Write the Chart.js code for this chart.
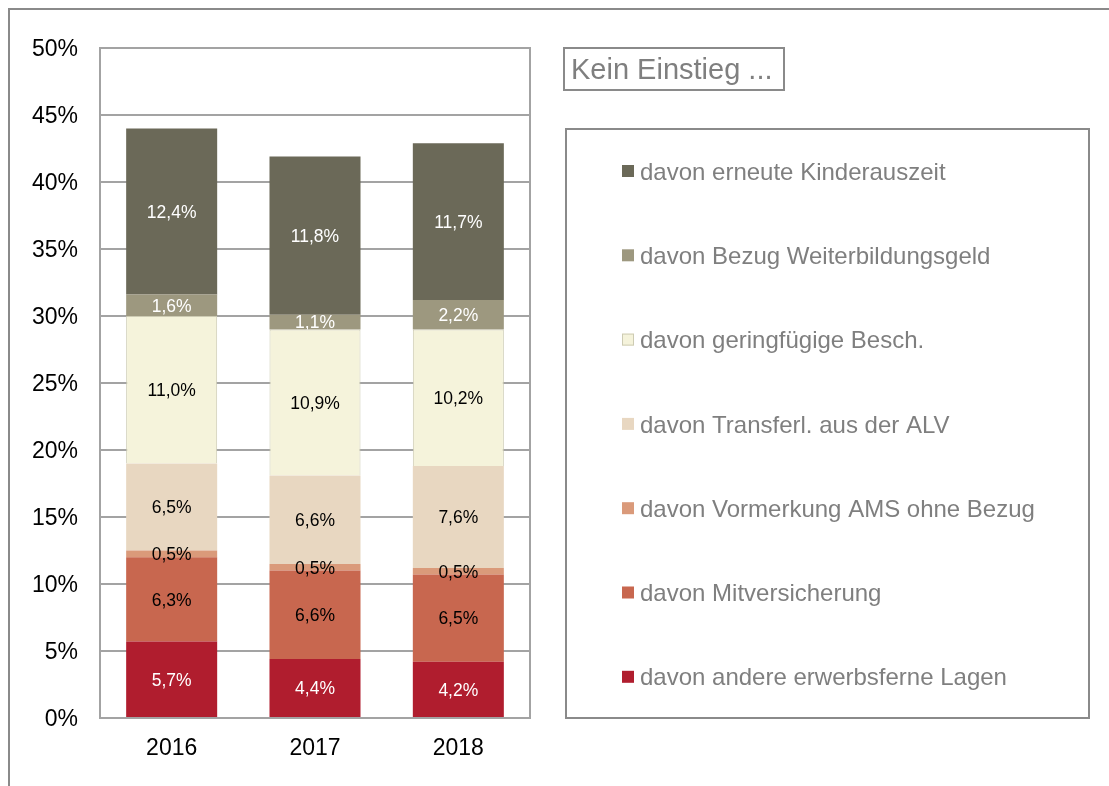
<!DOCTYPE html>
<html><head><meta charset="utf-8">
<script src="https://cdn.jsdelivr.net/npm/chart.js@4/dist/chart.umd.min.js"></script>
<style>html,body{margin:0;padding:0;background:#fff}#wrap{width:1109px;height:786px;position:relative}</style>
</head><body><div id="wrap"><canvas id="c" width="1109" height="786"></canvas></div>
<script>
const categories = ['2016', '2017', '2018'];
const andereLagen = [5.7, 4.4, 4.2];
const mitversicherung = [6.3, 6.6, 6.5];
const vormerkungAMS = [0.5, 0.5, 0.5];
const transferALV = [6.5, 6.6, 7.6];
const geringfuegig = [11.0, 10.9, 10.2];
const weiterbildungsgeld = [1.6, 1.1, 2.2];
const kinderauszeit = [12.4, 11.8, 11.7];
const seriesLabels = [
  'davon andere erwerbsferne Lagen',
  'davon Mitversicherung',
  'davon Vormerkung AMS ohne Bezug',
  'davon Transferl. aus der ALV',
  'davon geringfügige Besch.',
  'davon Bezug Weiterbildungsgeld',
  'davon erneute Kinderauszeit'
];
const yTickValues = [0, 5, 10, 15, 20, 25, 30, 35, 40, 45, 50];
const titleText = 'Kein Einstieg ...';

const seriesValues = [andereLagen, mitversicherung, vormerkungAMS, transferALV, geringfuegig, weiterbildungsgeld, kinderauszeit];
const fillColors = ['#B01D2E', '#C8674F', '#DA9A7A', '#E8D7C1', '#F5F3DB', '#9D987F', '#6B6958'];
const labelColors = ['#FFFFFF', '#000000', '#000000', '#000000', '#000000', '#FFFFFF', '#FFFFFF'];
const borderColors = [null, null, null, null, '#CDCBB3', null, null];

const FONT = "'Liberation Sans', Arial, sans-serif";
const GRID = '#A3A3A3';
const FRAME = '#8A8A8A';

const fmt = v => v.toFixed(1).replace('.', ',') + '%';

const decorPlugin = {
  id: 'decor',
  beforeDraw(chart) {
    const ctx = chart.ctx;
    ctx.save();
    ctx.fillStyle = '#fff';
    ctx.fillRect(0, 0, chart.width, chart.height);
    ctx.strokeStyle = FRAME;
    ctx.lineWidth = 2;
    ctx.beginPath();
    ctx.moveTo(9, 786); ctx.lineTo(9, 9); ctx.lineTo(1109, 9);
    ctx.stroke();
    // title box
    ctx.strokeRect(564, 48, 220, 42);
    ctx.fillStyle = '#7F7F7F';
    ctx.font = '29px ' + FONT;
    ctx.textBaseline = 'middle';
    ctx.textAlign = 'left';
    ctx.fillText(titleText, 571, 71);
    // legend box
    ctx.strokeRect(566, 129, 523, 589);
    ctx.font = '24px ' + FONT;
    const n = chart.data.datasets.length;
    for (let i = 0; i < n; i++) {
      const ds = chart.data.datasets[n - 1 - i];
      const y = 171 + i * 84.3;
      ctx.fillStyle = ds.backgroundColor;
      ctx.fillRect(622, y - 6, 12, 12);
      if (ds.borderWidth) {
        ctx.strokeStyle = ds.borderColor; ctx.lineWidth = 1;
        ctx.strokeRect(622.5, y - 5.5, 11, 11);
      }
      ctx.fillStyle = '#7F7F7F';
      ctx.fillText(ds.label, 640, y + 2);
    }
    ctx.restore();
  },
  beforeDatasetsDraw(chart) {
    const a = chart.chartArea;
    const ctx = chart.ctx;
    ctx.save();
    ctx.strokeStyle = GRID;
    ctx.lineWidth = 2;
    ctx.strokeRect(a.left, a.top, a.right - a.left, a.bottom - a.top);
    ctx.restore();
  },
  afterDatasetsDraw(chart) {
    const ctx = chart.ctx;
    ctx.save();
    ctx.font = '17.5px ' + FONT;
    ctx.textAlign = 'center';
    ctx.textBaseline = 'middle';
    chart.data.datasets.forEach((ds, di) => {
      const meta = chart.getDatasetMeta(di);
      meta.data.forEach((el, i) => {
        const p = el.getProps(['x', 'y', 'base', 'width'], true);
        const top = Math.min(p.y, p.base), bot = Math.max(p.y, p.base);
        const cy = (top + bot) / 2;
        ctx.save();
        if (ds.labelColor === '#FFFFFF') {
          ctx.beginPath();
          ctx.rect(p.x - p.width / 2, top, p.width, bot - top);
          ctx.clip();
        }
        ctx.fillStyle = ds.labelColor;
        ctx.fillText(fmt(ds.data[i]), p.x, cy + 1.5);
        ctx.restore();
      });
    });
    ctx.restore();
  }
};

new Chart(document.getElementById('c'), {
  type: 'bar',
  data: {
    labels: categories,
    datasets: seriesValues.map((vals, k) => ({
      label: seriesLabels[k],
      data: vals,
      backgroundColor: fillColors[k],
      borderColor: borderColors[k] || fillColors[k],
      borderWidth: borderColors[k] ? 1 : 0,
      labelColor: labelColors[k],
      barPercentage: 0.635,
      categoryPercentage: 1.0
    }))
  },
  options: {
    responsive: false,
    devicePixelRatio: 1,
    animation: false,
    layout: { padding: { left: 0, top: 48, right: 579, bottom: 0 } },
    plugins: { legend: { display: false }, tooltip: { enabled: false } },
    scales: {
      x: {
        stacked: true,
        grid: { display: false, drawTicks: false },
        border: { display: false },
        ticks: { color: '#000', font: { family: FONT, size: 23 }, padding: 17 },
        afterFit: s => { s.height = 68; }
      },
      y: {
        stacked: true,
        min: 0, max: 50,
        afterBuildTicks: s => { s.ticks = yTickValues.map(v => ({ value: v })); },
        grid: { color: GRID, lineWidth: 2, drawTicks: false },
        border: { display: false },
        ticks: { color: '#000', font: { family: FONT, size: 23 }, padding: 22, labelOffset: 2, callback: v => v + '%' },
        afterFit: s => { s.width = 100; }
      }
    }
  },
  plugins: [decorPlugin]
});
</script></body></html>
